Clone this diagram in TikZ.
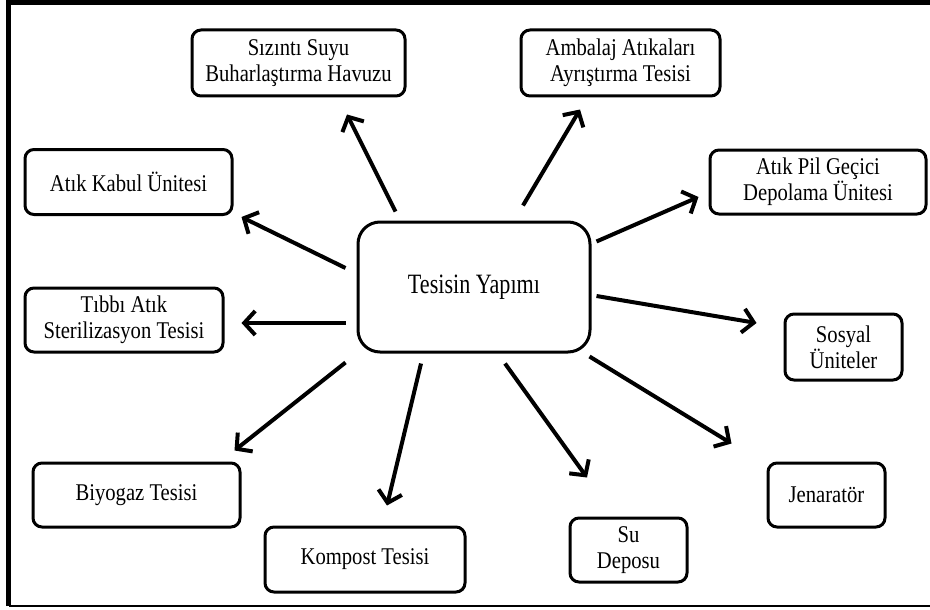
\documentclass[tikz,border=0pt]{standalone}
\usepackage{fontspec}
\setmainfont{Liberation Serif}[FakeStretch=0.86]
\newfontfamily\centerfont{Liberation Serif}[FakeStretch=0.79]
\usetikzlibrary{arrows.meta}

\tikzset{
  unit/.style={draw, line width=3pt, rounded corners=9pt, align=center,
    inner sep=0pt, font=\fontsize{24}{26}\selectfont},
  hub/.style={draw, line width=3pt, rounded corners=22pt, align=center,
    inner sep=0pt, minimum width=232pt, minimum height=130pt,
    font=\centerfont\fontsize{28}{30}\selectfont},
  arr/.style={line width=4pt, -{Straight Barb[length=11pt,width=24pt,line width=4pt]}},
  frame/.style={line width=#1}
}

\begin{document}
\begin{tikzpicture}[x=1pt, y=-1pt]
  \useasboundingbox (0,0) rectangle (930,610);
  \fill[white] (0,0) rectangle (930,610);

  % page frame
  \draw[frame=5pt] (8.5,606) -- (8.5,2.5) -- (930,2.5);
  \draw[frame=2.5pt] (8.5,606) -- (930,606);

  % central box
  \node[hub] (c) at (474,287) {Tesisin Yapımı};

  % surrounding units
  \node[unit, minimum width=213pt, minimum height=66pt] (siz) at (298.5,63)
    {Sızıntı Suyu\\Buharlaştırma Havuzu};
  \node[unit, minimum width=199pt, minimum height=66pt] (amb) at (620.5,63)
    {Ambalaj Atıkaları\\Ayrıştırma Tesisi};
  \node[unit, minimum width=207pt, minimum height=65pt] (kabul) at (128.5,182)
    {Atık Kabul Ünitesi};
  \node[unit, minimum width=216pt, minimum height=64pt] (pil) at (818,182)
    {Atık Pil Geçici\\Depolama Ünitesi};
  \node[unit, minimum width=198pt, minimum height=64pt] (tibbi) at (124,320)
    {Tıbbı Atık\\Sterilizasyon Tesisi};
  \node[unit, minimum width=117pt, minimum height=66pt] (sos) at (843.5,347)
    {Sosyal\\Üniteler};
  \node[unit, minimum width=207pt, minimum height=64pt] (biyo) at (136.5,495)
    {Biyogaz Tesisi};
  \node[unit, minimum width=117pt, minimum height=64pt] (jen) at (826.5,495)
    {Jenaratör};
  \node[unit, minimum width=200pt, minimum height=65pt] (komp) at (365,559.5)
    {Kompost Tesisi};
  \node[unit, minimum width=117pt, minimum height=64pt] (su) at (628.5,550)
    {Su\\Deposu};

  % arrows from the central box
  \draw[arr] ([shift={(39,-9)}]c.north west) -- ([shift={(48.5,17)}]siz.south);
  \draw[arr] ([shift={(49,-15)}]c.north) -- ([shift={(-40.5,12)}]amb.south);
  \draw[arr] ([shift={(-11,-19)}]c.west) -- ([shift={(8,1)}]kabul.south east);
  \draw[arr] ([shift={(5,21)}]c.north east) -- ([shift={(-10,15)}]pil.west);
  \draw[arr] ([shift={(-11,36)}]c.west) -- ([shift={(17,3)}]tibbi.east);
  \draw[arr] ([shift={(5,9)}]c.east) -- ([shift={(-27,-24)}]sos.west);
  \draw[arr] ([shift={(-11,9)}]c.south west) -- ([shift={(-7,-11)}]biyo.north east);
  \draw[arr] ([shift={(-2,3)}]c.south east) -- ([shift={(-35,-18)}]jen.north west);
  \draw[arr] ([shift={(-53,10)}]c.south) -- ([shift={(22,-20)}]komp.north);
  \draw[arr] ([shift={(31,10)}]c.south) -- ([shift={(-41.5,-39)}]su.north);
\end{tikzpicture}
\end{document}
